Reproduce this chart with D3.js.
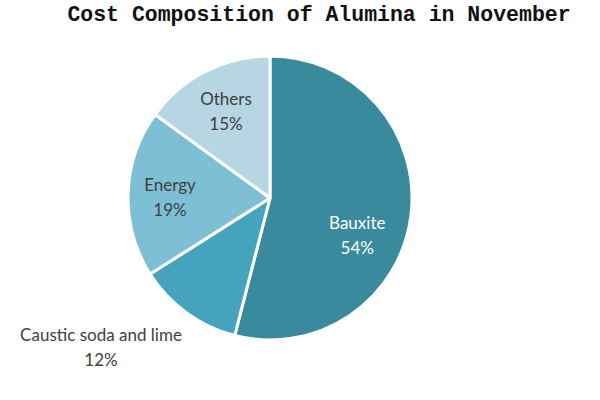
<!DOCTYPE html>
<html><head><meta charset="utf-8">
<script src="https://cdn.jsdelivr.net/npm/d3@7"></script>
<style>html,body{margin:0;padding:0;background:#fff;}</style>
</head><body>
<svg id="chart" width="600" height="400"></svg>
<script>
const categories = ["Bauxite", "Caustic soda and lime", "Energy", "Others"];
const values = [54, 12, 19, 15];
const colors = ["#3a8a9e", "#46a3bd", "#7dbfd5", "#b5d6e2"];
const titleText = "Cost Composition of Alumina in November";

const W = 600, H = 400, cx = 270, cy = 198, R = 142;
const svg = d3.select("#chart");
svg.append("rect").attr("width", W).attr("height", H).attr("fill", "#fff");

svg.append("text").attr("x", 319).attr("y", 21).attr("text-anchor", "middle")
  .attr("font-family", "Liberation Mono, monospace").attr("font-weight", "bold")
  .attr("font-size", 21.5).attr("fill", "#111").text(titleText);

const data = categories.map((c, i) => ({cat: c, value: values[i], color: colors[i]}));
const pie = d3.pie().value(d => d.value).sort(null);
const arcs = pie(data);
const arc = d3.arc().innerRadius(0).outerRadius(R);
const g = svg.append("g").attr("transform", `translate(${cx},${cy})`);
g.selectAll("path").data(arcs).join("path")
  .attr("d", arc).attr("fill", d => d.data.color)
  .attr("stroke", "#fff").attr("stroke-width", 3).attr("stroke-linejoin", "round");

// label layout: radius and offsets (layout, not data)
const labelLayout = {
  "Bauxite": {r: 96, dx: -8, dy: 26, fill: "#fff"},
  "Caustic soda and lime": {abs: [101, 336], fill: "#404040"},
  "Energy": {r: 100, dx: 0, dy: 3, fill: "#404040"},
  "Others": {r: 97, dx: 0, dy: 0, fill: "#404040"}
};
const labels = svg.append("g").attr("font-family", "Lato, 'Noto Sans', sans-serif").attr("font-size", 17);
arcs.forEach(a => {
  const L = labelLayout[a.data.cat];
  let x, y;
  if (L.abs) { [x, y] = L.abs; }
  else {
    const c = d3.arc().innerRadius(L.r).outerRadius(L.r).centroid(a);
    x = cx + c[0] + L.dx; y = cy + c[1] + L.dy - 12;
  }
  const t = labels.append("text").attr("text-anchor", "middle").attr("fill", L.fill);
  t.append("tspan").attr("x", x).attr("y", y + 5).text(a.data.cat);
  t.append("tspan").attr("x", x).attr("y", y + 30).text(d3.format(".0f")(a.data.value) + "%");
});
</script>
</body></html>
